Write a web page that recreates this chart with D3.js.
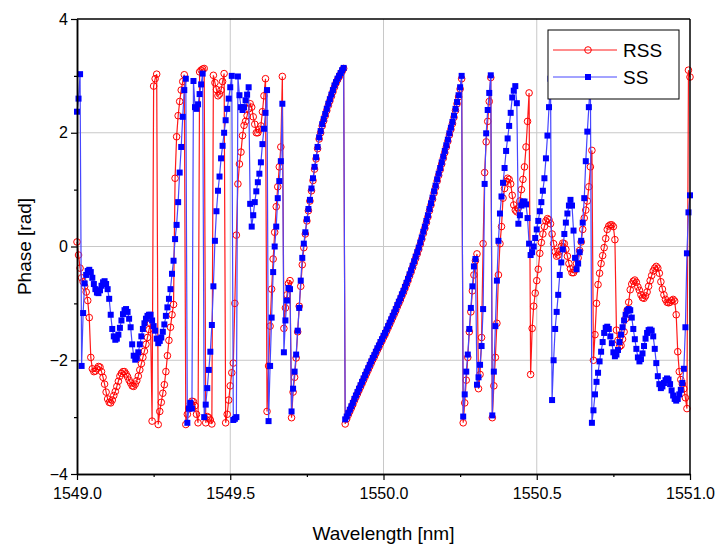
<!DOCTYPE html>
<html>
<head>
<meta charset="utf-8">
<script src="https://cdn.jsdelivr.net/npm/d3@7"></script>
<style>
  body { margin: 0; background: #fff; }
  svg { display: block; font-family: "Liberation Sans", Arial, sans-serif; }
</style>
</head>
<body>
<svg id="chart"></svg>
<script>
// sampling grid of the measurement: 1549.000 .. 1551.000 nm, step 0.005 nm
const lambdaStart = 1549.0
const lambdaStep = 0.005

const xTicks = [1549.0, 1549.5, 1550.0, 1550.5, 1551.0]
const xMinorTicks = [1549.25, 1549.75, 1550.25, 1550.75]
const yTicks = [-4, -2, 0, 2, 4]
const yMinorTicks = [-3, -1, 1, 3]

// phase [rad] of RSS, one value per grid point
const rssPhase = [
  0.08, -0.15, -0.38, -0.55, -0.62, -0.7, -0.8, -0.95, -1.25, -1.95,
  -2.15, -2.2, -2.19, -2.15, -2.11, -2.12, -2.2, -2.3, -2.42, -2.56,
  -2.68, -2.74, -2.75, -2.7, -2.62, -2.55, -2.46, -2.37, -2.28, -2.23,
  -2.2, -2.2, -2.24, -2.29, -2.35, -2.4, -2.45, -2.46, -2.42, -2.36,
  -2.28, -2.17, -2.06, -1.95, -1.84, -1.72, -1.6, -1.46, -1.35, -3.07,
  2.82, 2.95, 3.03, -3.13, -2.9, -2.74, -2.58, -2.43, -2.2, -1.92,
  -1.65, -1.42, -1.2, -1.02, 1.2, 1.93, 2.3, 2.55, 2.75, 2.9,
  3.02, -3.13, -2.95, -2.85, -2.76, -2.72, -2.73, -2.8, -2.95, -3.1,
  3.07, 3.1, 3.12, 3.13, -3.1, -2.99, -3.01, -3.05, -3.12, 3.01,
  2.88, 2.76, 2.65, 2.68, 2.75, 2.9, 3.04, -3.1, -2.95, -2.7,
  -2.45, -2.22, -2.05, -1.0, 0.2, 1.1, 1.45, 1.66, 1.95, 2.13,
  2.2, 2.3, 2.42, 2.51, 2.45, 2.28, 2.15, 2.0, 2.0, 2.06,
  2.12, 2.37, 2.65, 2.95, -2.9, -2.1, -1.4, -0.75, -0.22, 0.25,
  0.7, 1.05, 1.4, 1.75, 2.99, -1.44, -1.08, -0.85, -0.65, -0.6,
  -3.01, -2.56, -2.3, -1.96, -1.5, -1.05, -0.7, -0.32, -0.02, 0.22,
  0.45, 0.63, 0.8, 0.98, 1.16, 1.36, 1.54, 1.72, 1.89, 2.0,
  2.12, 2.21, 2.3, 2.39, 2.48, 2.56, 2.64, 2.72, 2.8, 2.87,
  2.93, 2.98, 3.03, 3.08, 3.13, -3.12, -3.03, -2.96, -2.9, -2.84,
  -2.78, -2.71, -2.65, -2.59, -2.53, -2.47, -2.41, -2.35, -2.29, -2.23,
  -2.17, -2.11, -2.05, -1.99, -1.94, -1.88, -1.82, -1.77, -1.71, -1.66,
  -1.6, -1.55, -1.49, -1.43, -1.37, -1.31, -1.25, -1.19, -1.13, -1.06,
  -1.0, -0.94, -0.87, -0.81, -0.74, -0.67, -0.6, -0.52, -0.45, -0.37,
  -0.29, -0.21, -0.13, -0.05, 0.04, 0.13, 0.23, 0.32, 0.42, 0.52,
  0.63, 0.73, 0.83, 0.94, 1.04, 1.15, 1.25, 1.35, 1.45, 1.55,
  1.65, 1.75, 1.85, 1.96, 2.06, 2.16, 2.27, 2.39, 2.51, 2.63,
  2.77, 2.95, -3.1, -2.75, -2.35, -1.95, -1.5, -1.15, -0.78, -0.5,
  -0.25, -0.13, -2.5, -2.25, -1.6, 0.05, 1.3, 1.84, 2.2, 2.55,
  2.97, -3.01, -2.45, -1.95, -1.35, -0.5, 0.05, 0.35, 0.85, 1.02,
  1.14, 1.2, 1.18, 1.1, 0.9, 0.73, 0.64, 0.61, 0.68, 0.8,
  1.0, 1.18, 1.4, 1.75, 2.2, 2.7, -2.25, -1.44, -1.05, -0.82,
  -0.6, -0.4, -0.12, 0.07, 0.22, 0.35, 0.45, 0.49, 0.47, 0.4,
  0.22, 0.05, -0.09, -0.17, -0.15, -0.08, 0.0, 0.06, 0.05, -0.05,
  -0.17, -0.3, -0.39, -0.46, -0.46, -0.41, -0.3, -0.2, -0.07, 0.08,
  0.3, 0.5, 0.64, 0.8, 1.05, 1.4, 1.69, -2.0, -1.55, -1.0,
  -0.67, -0.47, -0.3, -0.16, -0.02, 0.14, 0.3, 0.36, 0.38, 0.38,
  0.35, 0.12, -1.47, -1.65, -1.76, -1.74, -1.63, -1.5, -1.27, -1.12,
  -0.98, -0.76, -0.66, -0.61, -0.59, -0.63, -0.71, -0.77, -0.85, -0.9,
  -0.91, -0.87, -0.8, -0.7, -0.6, -0.51, -0.43, -0.38, -0.35, -0.38,
  -0.47, -0.62, -0.75, -0.85, -0.93, -0.98, -0.99, -0.98, -0.95, -0.93,
  -0.96, -1.2, -1.85, -2.2, -2.34, -2.42, -2.5, -2.66, -2.85, 3.1,
  2.98
]

// phase [rad] of SS, one value per grid point
const ssPhase = [
  2.37, 2.6, 3.03, -2.1, -1.17, -0.65, -0.5, -0.43, -0.41, -0.45,
  -0.55, -0.66, -0.75, -0.81, -0.82, -0.77, -0.69, -0.63, -0.61, -0.66,
  -0.75, -0.92, -1.2, -1.45, -1.58, -1.64, -1.62, -1.55, -1.43, -1.3,
  -1.19, -1.12, -1.1, -1.15, -1.27, -1.42, -1.72, -1.92, -1.99, -1.96,
  -1.86, -1.72, -1.58, -1.45, -1.35, -1.27, -1.22, -1.2, -1.2, -1.3,
  -1.4, -1.48, -1.62, -1.7, -1.66, -1.6, -1.5, -1.37, -1.22, -1.07,
  -0.92, -0.75, -0.48, -0.25, 0.13, 0.38, 0.78, 1.3, 1.75, 2.28,
  2.75, 2.95, -3.1, -2.85, -2.75, -2.85, 2.91, 2.45, 2.42, 2.5,
  2.68, 2.85, 3.04, -3.0, -2.78, -2.49, -2.17, -1.85, -1.38, -0.7,
  0.1, 0.62, 0.98, 1.23, 1.55, 1.77, 2.0, 2.22, 2.42, 2.6,
  2.8, 3.0, -3.05, -3.03, -3.0, 2.99, 2.66, 2.45, 2.4, 2.45,
  2.57, 2.67, 2.8, 0.75, 0.35, 0.55, 0.78, 0.97, 1.13, 1.28,
  1.48, 1.8, 2.07, 2.35, 2.75, -3.07, -2.1, -1.25, -0.45, 0.0,
  0.35, 0.85, 1.15, 1.5, 2.51, -1.86, -1.3, -0.95, -0.73, -0.75,
  -2.9, -2.5, -2.2, -1.9, -1.48, -1.08, -0.6, -0.2, 0.05, 0.25,
  0.48, 0.66, 0.82, 1.02, 1.2, 1.4, 1.57, 1.75, 1.92, 2.03,
  2.15, 2.24, 2.33, 2.42, 2.51, 2.59, 2.67, 2.75, 2.83, 2.89,
  2.95, 3.0, 3.05, 3.1, 3.14, -3.04, -2.99, -2.93, -2.87, -2.81,
  -2.75, -2.68, -2.62, -2.56, -2.5, -2.44, -2.38, -2.32, -2.26, -2.2,
  -2.14, -2.08, -2.02, -1.96, -1.91, -1.85, -1.79, -1.74, -1.68, -1.63,
  -1.57, -1.52, -1.46, -1.4, -1.34, -1.28, -1.22, -1.16, -1.1, -1.03,
  -0.97, -0.91, -0.84, -0.78, -0.71, -0.64, -0.57, -0.49, -0.42, -0.34,
  -0.26, -0.18, -0.1, -0.02, 0.07, 0.16, 0.26, 0.35, 0.45, 0.55,
  0.66, 0.76, 0.86, 0.97, 1.07, 1.18, 1.28, 1.38, 1.48, 1.58,
  1.68, 1.78, 1.88, 1.99, 2.09, 2.19, 2.3, 2.42, 2.54, 2.66,
  2.8, 3.0, -2.99, -2.6, -2.2, -1.9, -1.45, -1.08, -0.7, -0.35,
  -0.22, -2.43, -2.3, -2.08, -1.75, -1.1, 1.1, 1.99, 2.4, 2.7,
  3.01, -2.97, -2.2, -1.4, -0.6, 0.1, 0.58, 0.88, 1.12, 1.38,
  1.68, 1.9, 2.12, 2.35, 2.62, 2.74, 2.82, 2.52, 0.4, 0.55,
  0.72, 0.79, 0.79, 0.74, 0.5, 0.05, -0.15, -0.1, 0.0, 0.15,
  0.3, 0.45, 0.62, 0.78, 0.98, 1.2, 1.55, 1.95, 2.45, 2.95,
  -2.7, -2.0, -1.45, -1.15, -0.85, -0.5, -0.28, -0.05, 0.22, 0.42,
  0.58, 0.72, 0.82, 0.72, 0.28, -0.2, -0.4, -0.3, -0.1, 0.1,
  0.42, 0.85, 1.5, 2.02, 2.45, 2.95, -3.1, -2.88, -2.6, -2.38,
  -2.22, -2.02, -1.85, -1.68, -1.52, -1.43, -1.41, -1.45, -1.58, -1.7,
  -1.86, -1.93, -1.9, -1.82, -1.68, -1.55, -1.42, -1.3, -1.2, -1.13,
  -1.1, -1.12, -1.25, -1.45, -1.63, -1.8, -1.95, -2.02, -1.98, -1.88,
  -1.75, -1.62, -1.52, -1.47, -1.46, -1.48, -1.58, -1.8, -2.05, -2.28,
  -2.42, -2.49, -2.46, -2.4, -2.35, -2.32, -2.34, -2.42, -2.53, -2.62,
  -2.68, -2.71, -2.68, -2.6, -2.52, -2.4, -2.15, -1.42, -0.12, 0.6,
  0.9
]

const width = 720
const height = 548
const margin = { left: 77, right: 30, top: 19, bottom: 74 }

const svg = d3.select('#chart')
  .attr('width', width)
  .attr('height', height)

const x = d3.scaleLinear()
  .domain([1549.0, 1551.0])
  .range([margin.left, width - margin.right])

const y = d3.scaleLinear()
  .domain([-4, 4])
  .range([height - margin.bottom, margin.top])

const toPoints = arr => arr.map((v, i) => ({ wl: lambdaStart + i * lambdaStep, ph: v }))
const rssData = toPoints(rssPhase)
const ssData = toPoints(ssPhase)

// grid lines
svg.append('g')
  .selectAll('line')
  .data(xTicks.slice(1, -1))
  .enter()
  .append('line')
  .attr('x1', d => x(d)).attr('x2', d => x(d))
  .attr('y1', y(-4)).attr('y2', y(4))
  .attr('stroke', '#c8c8c8')
  .attr('stroke-width', 1)

svg.append('g')
  .selectAll('line')
  .data(yTicks.slice(1, -1))
  .enter()
  .append('line')
  .attr('x1', x(1549)).attr('x2', x(1551))
  .attr('y1', d => y(d)).attr('y2', d => y(d))
  .attr('stroke', '#c8c8c8')
  .attr('stroke-width', 1)

const line = d3.line()
  .x(d => x(d.wl))
  .y(d => y(d.ph))

// RSS
svg.append('path')
  .datum(rssData)
  .attr('fill', 'none')
  .attr('stroke', '#ff1a1a')
  .attr('stroke-width', 1.2)
  .attr('d', line)

svg.append('g')
  .selectAll('circle')
  .data(rssData)
  .enter()
  .append('circle')
  .attr('cx', d => x(d.wl))
  .attr('cy', d => y(d.ph))
  .attr('r', 3.3)
  .attr('fill', 'none')
  .attr('stroke', '#ff0000')
  .attr('stroke-width', 1)

// SS
svg.append('path')
  .datum(ssData)
  .attr('fill', 'none')
  .attr('stroke', '#4646ff')
  .attr('stroke-width', 1.2)
  .attr('d', line)

svg.append('g')
  .selectAll('rect')
  .data(ssData)
  .enter()
  .append('rect')
  .attr('x', d => x(d.wl) - 3)
  .attr('y', d => y(d.ph) - 3)
  .attr('width', 6)
  .attr('height', 6)
  .attr('fill', '#0000ff')

// axes
const xAxis = svg.append('g')
  .attr('transform', `translate(0,${y(-4)})`)
  .call(d3.axisBottom(x).tickValues(xTicks).tickFormat(d3.format('.1f')).tickSize(6).tickSizeOuter(0))
xAxis.selectAll('text').attr('font-size', 16).attr('dy', '1.0em').attr('fill', '#000')

svg.append('g')
  .attr('transform', `translate(0,${y(-4)})`)
  .call(d3.axisBottom(x).tickValues(xMinorTicks).tickFormat('').tickSize(3).tickSizeOuter(0))

const yAxis = svg.append('g')
  .attr('transform', `translate(${x(1549)},0)`)
  .call(d3.axisLeft(y).tickValues(yTicks).tickSize(6).tickSizeOuter(0))
yAxis.selectAll('text').attr('font-size', 16).attr('fill', '#000')

svg.append('g')
  .attr('transform', `translate(${x(1549)},0)`)
  .call(d3.axisLeft(y).tickValues(yMinorTicks).tickFormat('').tickSize(3).tickSizeOuter(0))

svg.selectAll('.domain').attr('stroke', '#000').attr('stroke-width', 1.5)
svg.selectAll('.tick line').attr('stroke', '#000').attr('stroke-width', 1.2)

// frame top/right
svg.append('line')
  .attr('x1', x(1549)).attr('x2', x(1551))
  .attr('y1', y(4)).attr('y2', y(4))
  .attr('stroke', '#000').attr('stroke-width', 1.5)
svg.append('line')
  .attr('x1', x(1551)).attr('x2', x(1551))
  .attr('y1', y(4)).attr('y2', y(-4))
  .attr('stroke', '#000').attr('stroke-width', 1.5)

// titles
svg.append('text')
  .attr('x', (x(1549) + x(1551)) / 2)
  .attr('y', 540)
  .attr('text-anchor', 'middle')
  .attr('font-size', 19)
  .text('Wavelength [nm]')

svg.append('text')
  .attr('transform', `translate(31,${(y(4) + y(-4)) / 2}) rotate(-90)`)
  .attr('text-anchor', 'middle')
  .attr('font-size', 19)
  .text('Phase [rad]')

// legend
const legend = svg.append('g').attr('transform', 'translate(548,30)')
legend.append('rect')
  .attr('width', 131).attr('height', 69)
  .attr('fill', '#fff').attr('stroke', '#000').attr('stroke-width', 1)

legend.append('line')
  .attr('x1', 5).attr('x2', 69).attr('y1', 20).attr('y2', 20)
  .attr('stroke', '#ff1a1a')
legend.append('circle')
  .attr('cx', 40).attr('cy', 20).attr('r', 3.3)
  .attr('fill', 'none').attr('stroke', '#ff0000')
legend.append('text')
  .attr('x', 75).attr('y', 27).attr('font-size', 19)
  .text('RSS')

legend.append('line')
  .attr('x1', 5).attr('x2', 69).attr('y1', 47).attr('y2', 47)
  .attr('stroke', '#4646ff')
legend.append('rect')
  .attr('x', 37).attr('y', 44).attr('width', 6).attr('height', 6)
  .attr('fill', '#0000ff')
legend.append('text')
  .attr('x', 75).attr('y', 54).attr('font-size', 19)
  .text('SS')
</script>
</body>
</html>
